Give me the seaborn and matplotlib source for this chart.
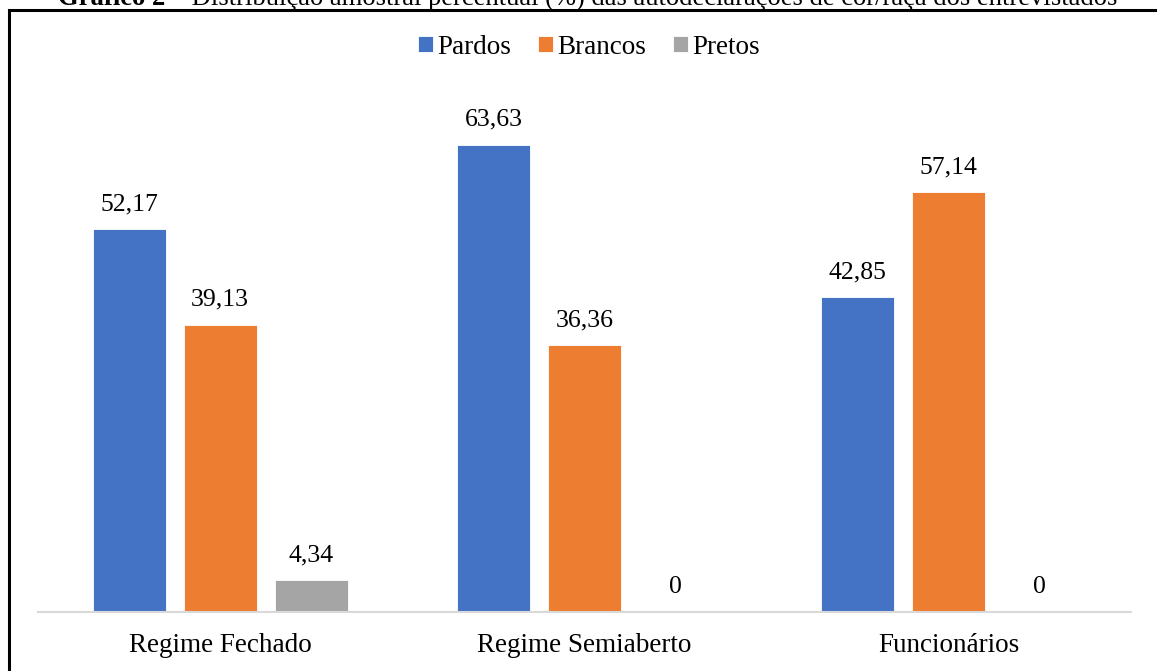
import matplotlib
matplotlib.use("Agg")
import matplotlib.pyplot as plt
from matplotlib.patches import Rectangle
import pandas as pd
import seaborn as sns

categories = ["Regime Fechado", "Regime Semiaberto", "Funcionários"]
pardos = [52.17, 63.63, 42.85]
brancos = [39.13, 36.36, 57.14]
pretos = [4.34, 0, 0]
series = ["Pardos", "Brancos", "Pretos"]
colors = ["#4472C4", "#ED7D31", "#A5A5A5"]

df = pd.DataFrame({
    "grupo": categories * 3,
    "cor": [s for s in series for _ in categories],
    "valor": pardos + brancos + pretos,
})

sns.set_theme(style="white")
plt.rcParams['font.family'] = ['Liberation Serif', 'DejaVu Serif']
plt.rcParams['text.color'] = 'black'

W, H = 1157, 671
fig = plt.figure(figsize=(W / 100, H / 100), dpi=100)
ax = fig.add_axes([38 / W, 1 - 612 / H, (1131 - 38) / W, (612 - 98) / H])

sns.barplot(data=df, x="grupo", y="valor", hue="cor", hue_order=series,
            palette=colors, width=0.75, gap=0.2, saturation=1,
            edgecolor="white", linewidth=0.6, legend=True, ax=ax)

ax.set_ylim(0, 70)
ax.set_xlim(-0.5, 2.5)
ax.set_xlabel("")
ax.set_ylabel("")
ax.set_yticks([])
for side in ["top", "left", "right"]:
    ax.spines[side].set_visible(False)
ax.spines["bottom"].set_color("#D9D9D9")
ax.spines["bottom"].set_linewidth(1.5)
ax.tick_params(axis="x", length=0, labelsize=19.5, pad=15, labelcolor="black")

for cont in ax.containers:
    labels = [f"{b.get_height():.2f}".replace(".", ",") if b.get_height() else "0" for b in cont]
    ax.bar_label(cont, labels=labels, padding=10, fontsize=18.5, color="black")

handles, labs = ax.get_legend_handles_labels()
ax.get_legend().remove()
fig.legend(handles, labs, loc="center", bbox_to_anchor=(589 / W, 1 - 47 / H),
           ncol=3, frameon=False, fontsize=19.5, handlelength=0.55, handleheight=0.55,
           handletextpad=0.15, columnspacing=1.0)

# frame around the chart (cut by the page edges on the right/bottom)
fig.patches.append(Rectangle((9 / W, -0.2), 1.2, 1.2 - 9.5 / H, transform=fig.transFigure,
                             fill=False, edgecolor="black", linewidth=2.2))

# title, mostly cropped off at the top as in the source page
fig.text(165 / W, 1 - 5 / H, "Gráfico 2", ha="right", va="baseline", fontsize=19.2, fontweight="bold")
fig.text(165 / W, 1 - 5 / H, " – Distribuição amostral percentual (%) das autodeclarações de cor/raça dos entrevistados",
         ha="left", va="baseline", fontsize=19.2)

fig.savefig("out.png", dpi=100)
